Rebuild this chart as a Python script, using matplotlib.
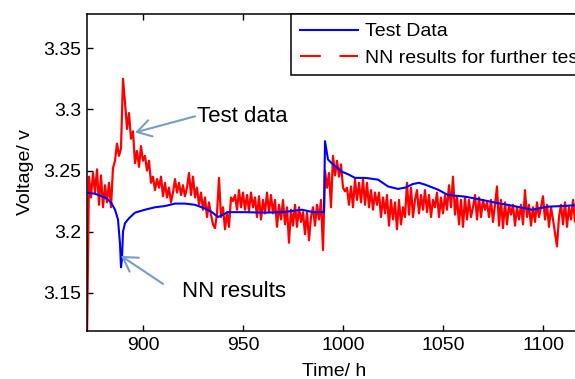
import matplotlib.pyplot as plt
import numpy as np
from matplotlib.lines import Line2D

plt.rcParams['font.family'] = ['Liberation Sans', 'DejaVu Sans']

# NN results for further test (red), one reading per hour from 872 h
red_start = 872
red_volt = [
    3.112, 3.245, 3.228, 3.248, 3.232, 3.251, 3.222, 3.246, 3.220, 3.238,
    3.224, 3.240, 3.220, 3.252, 3.258, 3.272, 3.262, 3.268, 3.325, 3.306,
    3.284, 3.297, 3.276, 3.282, 3.256, 3.266, 3.253, 3.270, 3.258, 3.262,
    3.250, 3.258, 3.240, 3.245, 3.234, 3.243, 3.236, 3.245, 3.229, 3.240,
    3.228, 3.236, 3.224, 3.232, 3.243, 3.232, 3.240, 3.230, 3.238, 3.229,
    3.236, 3.248, 3.230, 3.245, 3.228, 3.236, 3.222, 3.232, 3.218, 3.228,
    3.212, 3.224, 3.214, 3.206, 3.203, 3.215, 3.244, 3.212, 3.220, 3.202,
    3.216, 3.204, 3.228, 3.225, 3.230, 3.218, 3.234, 3.220, 3.232, 3.218,
    3.230, 3.217, 3.232, 3.220, 3.228, 3.212, 3.229, 3.210, 3.226, 3.215,
    3.232, 3.216, 3.230, 3.215, 3.226, 3.204, 3.222, 3.210, 3.226, 3.206,
    3.220, 3.191, 3.218, 3.205, 3.222, 3.204, 3.220, 3.208, 3.216, 3.198,
    3.216, 3.193, 3.212, 3.220, 3.205, 3.222, 3.210, 3.226, 3.185, 3.250,
    3.236, 3.248, 3.220, 3.262, 3.246, 3.258, 3.245, 3.255, 3.236, 3.233,
    3.236, 3.222, 3.237, 3.220, 3.243, 3.226, 3.240, 3.224, 3.243, 3.222,
    3.240, 3.220, 3.234, 3.218, 3.232, 3.222, 3.232, 3.212, 3.228, 3.215,
    3.230, 3.205, 3.226, 3.210, 3.224, 3.202, 3.226, 3.206, 3.220, 3.212,
    3.240, 3.214, 3.236, 3.212, 3.226, 3.234, 3.215, 3.230, 3.218, 3.234,
    3.216, 3.230, 3.212, 3.226, 3.220, 3.232, 3.212, 3.228, 3.215, 3.230,
    3.218, 3.238, 3.220, 3.245, 3.214, 3.229, 3.206, 3.226, 3.204, 3.228,
    3.210, 3.226, 3.212, 3.220, 3.230, 3.210, 3.228, 3.212, 3.226, 3.218,
    3.224, 3.212, 3.226, 3.208, 3.222, 3.237, 3.205, 3.226, 3.203, 3.224,
    3.206, 3.222, 3.214, 3.222, 3.205, 3.220, 3.210, 3.222, 3.206, 3.234,
    3.212, 3.222, 3.205, 3.220, 3.208, 3.224, 3.212, 3.220, 3.229, 3.210,
    3.222, 3.204, 3.220, 3.210, 3.199, 3.188, 3.212, 3.222, 3.206, 3.224,
    3.204, 3.220, 3.210, 3.226, 3.208, 3.220,
]
red_time = red_start + np.arange(len(red_volt))

# Test Data (blue)
blue_time = [872, 876, 881, 884, 886, 887.5, 888.5, 889, 889.5, 890, 891, 893,
             896, 901, 906, 911, 916, 921, 926, 931, 934.5, 937.5, 940, 942.5,
             951, 960, 970, 979.5, 985, 990.5, 991, 992.5, 995, 999.5, 1002.5,
             1006, 1011, 1017.5, 1022.5, 1027.5, 1031, 1035, 1038, 1041,
             1047.5, 1052.5, 1061, 1069.5, 1076, 1084.5, 1094.5, 1102.5, 1110,
             1119]
blue_volt = [3.232, 3.231, 3.228, 3.224, 3.218, 3.210, 3.190, 3.171, 3.178,
             3.200, 3.207, 3.211, 3.2156, 3.218, 3.220, 3.221, 3.223, 3.223,
             3.222, 3.219, 3.216, 3.212, 3.214, 3.216, 3.216, 3.2156, 3.216,
             3.218, 3.216, 3.216, 3.274, 3.259, 3.255, 3.249, 3.247, 3.244,
             3.244, 3.2426, 3.237, 3.235, 3.236, 3.239, 3.240, 3.2385, 3.2344,
             3.230, 3.2287, 3.226, 3.2238, 3.2213, 3.218, 3.2205, 3.221, 3.222]

x_ticks = [900, 950, 1000, 1050, 1100]
y_ticks = [3.15, 3.2, 3.25, 3.3, 3.35]
y_tick_labels = ['3.15', '3.2', '3.25', '3.3', '3.35']

fig = plt.figure(figsize=(5.75, 3.79), dpi=100)
ax = fig.add_axes([87 / 575, 48 / 379, 494 / 575, 317 / 379])

ax.plot(red_time, red_volt, color='#ff0000', lw=1.6, zorder=2)
ax.plot(blue_time, blue_volt, color='#0000ff', lw=1.5, zorder=3)

ax.set_xlim(872, 1119)
ax.set_ylim(3.1189, 3.3779)
ax.set_xticks(x_ticks)
ax.set_yticks(y_ticks)
ax.set_yticklabels(y_tick_labels)
ax.tick_params(direction='in', top=True, right=True, length=4, width=1,
               labelsize=14, pad=4)
for s in ax.spines.values():
    s.set_linewidth(1.1)

ax.set_xlabel('Time/ h', fontsize=14, labelpad=7)
ax.set_ylabel('Voltage/ v', fontsize=14, labelpad=7)

arrow_c = '#7a9cc6'
aprops = dict(arrowstyle='->,head_length=0.5,head_width=0.3', color=arrow_c,
              lw=1.5, mutation_scale=20, shrinkA=0, shrinkB=0)
ax.annotate('', xy=(896, 3.2811), xytext=(926, 3.2943), arrowprops=aprops)
ax.text(927, 3.2939, 'Test data', fontsize=16, ha='left', va='center')
ax.annotate('', xy=(889, 3.1803), xytext=(910, 3.1574), arrowprops=aprops)
ax.text(919.5, 3.1508, 'NN results', fontsize=16, ha='left', va='center')

handles = [Line2D([], [], color='#0000ff', lw=1.5),
           Line2D([], [], color='#ff0000', lw=1.5, ls=(0, (10, 9)))]
leg = fig.legend(handles, ['Test Data', 'NN results for further test data'],
                 loc='upper left', bbox_to_anchor=(291 / 575, 365 / 379),
                 fontsize=14, handlelength=3.0, handletextpad=0.35,
                 labelspacing=0.45, borderpad=0.45, borderaxespad=0,
                 fancybox=False, framealpha=1, edgecolor='black')
leg.get_frame().set_linewidth(1.1)

fig.savefig('out.png', dpi=100)
